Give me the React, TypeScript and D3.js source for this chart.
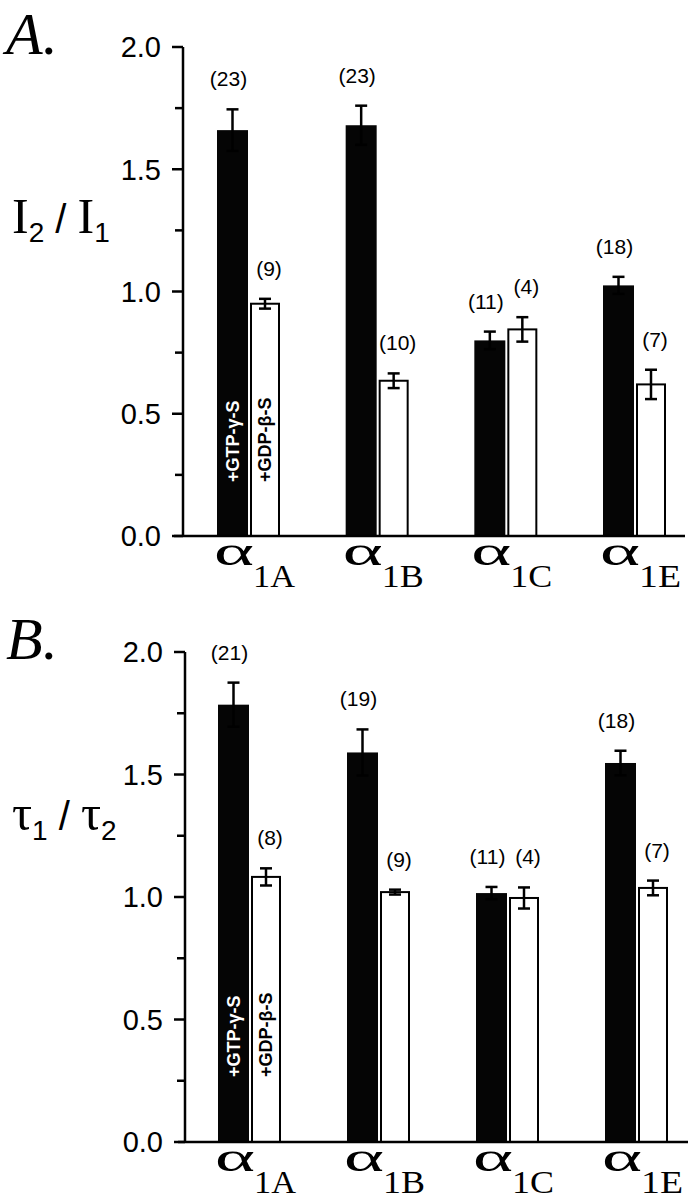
import * as d3 from "d3";

const categories = ["1A", "1B", "1C", "1E"];
const yTicks = [0, 0.5, 1.0, 1.5, 2.0];
const yMinorTicks = [0.25, 0.75, 1.25, 1.75];

// panel A: I2 / I1
const gtpA = [1.66, 1.68, 0.8, 1.025];
const gtpAErr = [0.085, 0.08, 0.036, 0.035];
const gdpA = [0.95, 0.635, 0.845, 0.62];
const gdpAErr = [0.02, 0.03, 0.05, 0.06];
const nGtpA = [23, 23, 11, 18];
const nGdpA = [9, 10, 4, 7];

// panel B: tau1 / tau2
const gtpB = [1.785, 1.59, 1.016, 1.547];
const gtpBErr = [0.09, 0.094, 0.025, 0.05];
const gdpB = [1.082, 1.02, 0.996, 1.037];
const gdpBErr = [0.035, 0.01, 0.043, 0.03];
const nGtpB = [21, 19, 11, 18];
const nGdpB = [8, 9, 4, 7];

const SANS = "Liberation Sans, Arial, sans-serif";
const SERIF = "Liberation Serif, Times New Roman, serif";

type PanelProps = {
  letter: string;
  top: number;
  base: number;
  axisX: number;
  xRange: [number, number];
  lineRange: [number, number];
  gtp: number[];
  gtpErr: number[];
  gdp: number[];
  gdpErr: number[];
  nGtp: number[];
  nGdp: number[];
  labelShift: number;
  yLabel: "I" | "tau";
};

const Panel = (p: PanelProps) => {
  const y = d3.scaleLinear().domain([0, 2]).range([p.base, p.top]);
  const x = d3.scalePoint<string>().domain(categories).range(p.xRange);
  const bw = 31;
  const ww = 28;
  const cap = 6;

  const errBar = (cx: number, v: number, e: number, key: string) => (
    <g key={key} stroke="#000" strokeWidth={2.5}>
      <line x1={cx} x2={cx} y1={y(v - e)} y2={y(v + e)} />
      <line x1={cx - cap} x2={cx + cap} y1={y(v + e)} y2={y(v + e)} />
      <line x1={cx - cap} x2={cx + cap} y1={y(v - e)} y2={y(v - e)} />
    </g>
  );

  return (
    <g>
      <text x={6} y={p.top + 7} fontFamily={SERIF} fontStyle="italic" fontSize={60}>
        {p.letter}.
      </text>
      {p.yLabel === "I" ? (
        <text x={12} y={p.top + 186} fontFamily={SERIF} fontSize={50}>
          I
          <tspan fontFamily={SANS} fontSize={28} dy={9}>2</tspan>
          <tspan fontFamily={SANS} fontSize={40} dy={-9}> / </tspan>
          <tspan>I</tspan>
          <tspan fontFamily={SANS} fontSize={28} dy={9}>1</tspan>
        </text>
      ) : (
        <text x={12} y={p.top + 178} fontFamily={SERIF} fontSize={50}>
          τ
          <tspan fontFamily={SANS} fontSize={28} dy={10}>1</tspan>
          <tspan fontFamily={SANS} fontSize={40} dy={-10}> / </tspan>
          <tspan>τ</tspan>
          <tspan fontFamily={SANS} fontSize={28} dy={10}>2</tspan>
        </text>
      )}

      {/* y axis */}
      <line x1={p.axisX} x2={p.axisX} y1={y(2)} y2={y(0)} stroke="#000" strokeWidth={2.5} />
      {yTicks.map((t) => (
        <g key={t}>
          <line x1={p.axisX - 11} x2={p.axisX} y1={y(t)} y2={y(t)} stroke="#000" strokeWidth={2.5} />
          <text
            x={p.axisX - 22}
            y={y(t)}
            dy="0.36em"
            textAnchor="end"
            fontFamily={SANS}
            fontSize={29}
          >
            {t.toFixed(1)}
          </text>
        </g>
      ))}
      {yMinorTicks.map((t) => (
        <line key={t} x1={p.axisX - 8} x2={p.axisX} y1={y(t)} y2={y(t)} stroke="#000" strokeWidth={2.5} />
      ))}

      {/* bars */}
      {categories.map((c, i) => {
        const cx = x(c) as number;
        const bx = cx - 32;
        const wx = cx + 2;
        const bc = bx + bw / 2;
        const wc = wx + ww / 2;
        return (
          <g key={c}>
            <rect x={bx} y={y(p.gtp[i])} width={bw} height={y(0) - y(p.gtp[i])} fill="#050505" />
            <rect
              x={wx}
              y={y(p.gdp[i])}
              width={ww}
              height={y(0) - y(p.gdp[i])}
              fill="#fff"
              stroke="#000"
              strokeWidth={2}
            />
            {errBar(bc, p.gtp[i], p.gtpErr[i], "eg")}
            {errBar(wc, p.gdp[i], p.gdpErr[i], "ed")}
            <text
              x={bc - 4}
              y={y(p.gtp[i] + p.gtpErr[i]) - 23}
              textAnchor="middle"
              fontFamily={SANS}
              fontSize={21}
            >
              ({p.nGtp[i]})
            </text>
            <text
              x={wc + 4}
              y={y(p.gdp[i] + p.gdpErr[i]) - 23}
              textAnchor="middle"
              fontFamily={SANS}
              fontSize={21}
            >
              ({p.nGdp[i]})
            </text>
            {i === 0 && (
              <>
                <text
                  transform={`translate(${bc + 6},${y(0) - p.labelShift}) rotate(-90)`}
                  fontFamily={SANS}
                  fontWeight="bold"
                  fontSize={18}
                  fill="#fff"
                >
                  +GTP-γ-S
                </text>
                <text
                  transform={`translate(${wc + 6},${y(0) - p.labelShift}) rotate(-90)`}
                  fontFamily={SANS}
                  fontWeight="bold"
                  fontSize={18}
                  fill="#000"
                >
                  +GDP-β-S
                </text>
              </>
            )}
            <text
              x={cx - 35}
              y={y(0) + 29}
              fontFamily={SERIF}
              fontSize={42}
              textLength={40}
              lengthAdjust="spacingAndGlyphs"
            >
              α
            </text>
            <text
              x={cx + 4}
              y={y(0) + 51}
              fontFamily={SERIF}
              fontSize={31}
              textLength={42}
              lengthAdjust="spacingAndGlyphs"
            >
              {c}
            </text>
          </g>
        );
      })}

      {/* baseline */}
      <line x1={p.lineRange[0]} x2={p.lineRange[1]} y1={y(0)} y2={y(0)} stroke="#000" strokeWidth={2.5} />
    </g>
  );
};

const App = () => {
  const width = 695;
  const height = 1199;
  return (
    <svg
      width={width}
      height={height}
      style={{ position: "absolute", left: 0, top: 0, background: "#fff" }}
    >
      <rect width={width} height={height} fill="#fff" />
      <Panel
        letter="A"
        top={47}
        base={536}
        axisX={183}
        xRange={[249, 635]}
        lineRange={[174, 685]}
        gtp={gtpA}
        gtpErr={gtpAErr}
        gdp={gdpA}
        gdpErr={gdpAErr}
        nGtp={nGtpA}
        nGdp={nGdpA}
        labelShift={54}
        yLabel="I"
      />
      <Panel
        letter="B"
        top={652}
        base={1142}
        axisX={185}
        xRange={[250, 637]}
        lineRange={[178, 688]}
        gtp={gtpB}
        gtpErr={gtpBErr}
        gdp={gdpB}
        gdpErr={gdpBErr}
        nGtp={nGtpB}
        nGdp={nGdpB}
        labelShift={65}
        yLabel="tau"
      />
    </svg>
  );
};

export default App;
